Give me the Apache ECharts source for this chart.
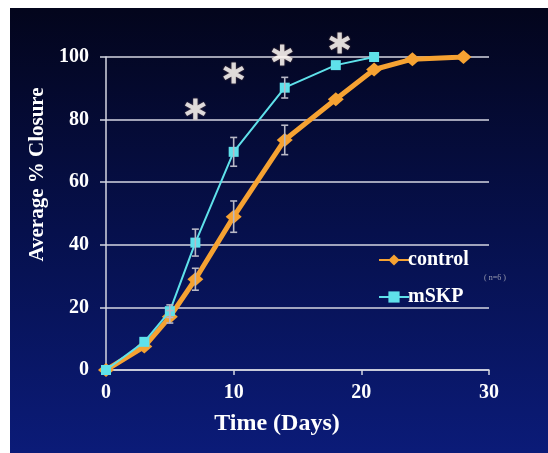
<!DOCTYPE html>
<html>
<head>
<meta charset="utf-8">
<script src="https://cdn.jsdelivr.net/npm/echarts@6/dist/echarts.min.js"></script>
<style>
html,body{margin:0;padding:0;background:#ffffff;width:548px;height:453px;overflow:hidden;}
#c{position:absolute;left:10px;top:8px;width:538px;height:445px;}
</style>
</head>
<body>
<div id="c"></div>
<script>
// ---- data ----
var controlDays = [0, 3, 5, 7, 10, 14, 18, 21, 24, 28];
var controlVals = [0, 7.5, 17, 29, 49, 73.5, 86.5, 96, 99.3, 100];
var controlErr  = [0, 0, 2, 3.5, 5, 4.7, 0, 0, 0, 0];
var mskpDays = [0, 3, 5, 7, 10, 14, 18, 21];
var mskpVals = [0, 9, 18.8, 40.7, 69.7, 90.2, 97.4, 100];
var mskpErr  = [0, 0, 2, 4.3, 4.6, 3.3, 0, 0];
var starDays = [7, 10, 13.8, 18.3];
var starVals = [83.4, 94.9, 100.6, 104.5];
var xTicks = [0, 10, 20, 30];
var yTicks = [0, 20, 40, 60, 80, 100];

var FONT = '"Liberation Serif", "Times New Roman", serif';
var GRIDC = '#d4d6e2';

function pairs(xs, ys) { return xs.map(function (x, i) { return [x, ys[i]]; }); }
function errData(xs, ys, es) {
  var out = [];
  xs.forEach(function (x, i) { if (es[i] > 0) out.push([x, ys[i] - es[i], ys[i] + es[i]]); });
  return out;
}
function errRender(params, api) {
  var x = api.value(0);
  var lo = api.coord([x, api.value(1)]);
  var hi = api.coord([x, api.value(2)]);
  var w = 3.5;
  var st = { stroke: '#b8b8c6', lineWidth: 1.6 };
  return {
    type: 'group',
    children: [
      { type: 'line', shape: { x1: lo[0], y1: lo[1], x2: hi[0], y2: hi[1] }, style: st },
      { type: 'line', shape: { x1: lo[0] - w, y1: lo[1], x2: lo[0] + w, y2: lo[1] }, style: st },
      { type: 'line', shape: { x1: hi[0] - w, y1: hi[1], x2: hi[0] + w, y2: hi[1] }, style: st }
    ]
  };
}
var STAR = 'path://M-2,-10 L2,-10 L2,10 L-2,10 Z M7.66,-6.73 L9.66,-3.27 L-7.66,6.73 L-9.66,3.27 Z M-9.66,-3.27 L-7.66,-6.73 L9.66,3.27 L7.66,6.73 Z';

var chart = echarts.init(document.getElementById('c'), null, { renderer: 'canvas' });
chart.setOption({
  backgroundColor: {
    type: 'linear', x: 0, y: 0, x2: 0, y2: 1,
    colorStops: [
      { offset: 0, color: '#03051c' },
      { offset: 0.5, color: '#06104c' },
      { offset: 1, color: '#0b1b78' }
    ]
  },
  animation: false,
  textStyle: { fontFamily: FONT },
  grid: { left: 96, top: 49, width: 383, height: 313 },
  legend: {
    orient: 'vertical',
    left: 363, top: 237,
    itemWidth: 30, itemHeight: 14, itemGap: 17,
    textStyle: { color: '#ffffff', fontFamily: FONT, fontWeight: 'bold', fontSize: 20, padding: [0, 0, 0, -6] },
    data: ['control', 'mSKP']
  },
  xAxis: {
    type: 'value', min: 0, max: 30, interval: 10,
    name: 'Time (Days)', nameLocation: 'middle', nameGap: 42,
    nameTextStyle: { color: '#ffffff', fontFamily: FONT, fontWeight: 'bold', fontSize: 24, padding: [0, 41, 0, 0] },
    axisLine: { show: true, lineStyle: { color: GRIDC, width: 1.5 } },
    axisTick: { show: true, length: 5, lineStyle: { color: GRIDC, width: 1.5 } },
    axisLabel: { color: '#ffffff', fontFamily: FONT, fontWeight: 'bold', fontSize: 20, margin: 13 },
    splitLine: { show: false }
  },
  yAxis: {
    type: 'value', min: 0, max: 100, interval: 20,
    name: 'Average % Closure', nameLocation: 'middle', nameGap: 57,
    nameTextStyle: { color: '#ffffff', fontFamily: FONT, fontWeight: 'bold', fontSize: 21, padding: [0, 0, 0, 78] },
    axisLine: { show: true, lineStyle: { color: GRIDC, width: 1.5 } },
    axisTick: { show: true, length: 6, lineStyle: { color: GRIDC, width: 1.5 } },
    axisLabel: { color: '#ffffff', fontFamily: FONT, fontWeight: 'bold', fontSize: 20, margin: 17 },
    splitLine: { show: true, lineStyle: { color: GRIDC, width: 1.5 } }
  },
  series: [
    {
      name: 'control', type: 'line', data: pairs(controlDays, controlVals),
      symbol: 'diamond', symbolSize: [16, 14],
      lineStyle: { color: '#f6a232', width: 5 },
      itemStyle: { color: '#f6a232' }, z: 3
    },
    {
      name: 'mSKP', type: 'line', data: pairs(mskpDays, mskpVals),
      symbol: 'rect', symbolSize: 10,
      lineStyle: { color: '#5fe1ea', width: 2 },
      itemStyle: { color: '#5fe1ea' }, z: 4
    },
    {
      name: 'errC', type: 'custom', renderItem: errRender, data: errData(controlDays, controlVals, controlErr),
      encode: { x: 0, y: [1, 2] }, z: 5, silent: true
    },
    {
      name: 'errM', type: 'custom', renderItem: errRender, data: errData(mskpDays, mskpVals, mskpErr),
      encode: { x: 0, y: [1, 2] }, z: 5, silent: true
    },
    {
      name: 'sig', type: 'scatter', data: pairs(starDays, starVals),
      symbol: STAR, symbolSize: [21, 21], clip: false,
      itemStyle: { color: '#ffffff', shadowColor: 'rgba(255,180,120,0.5)', shadowBlur: 2 }, z: 6
    }
  ],
  graphic: [
    { type: 'text', left: 474, top: 266, style: { text: '( n=6 )', fill: '#9a9cb0', font: '8px ' + FONT } }
  ]
});
</script>
</body>
</html>
